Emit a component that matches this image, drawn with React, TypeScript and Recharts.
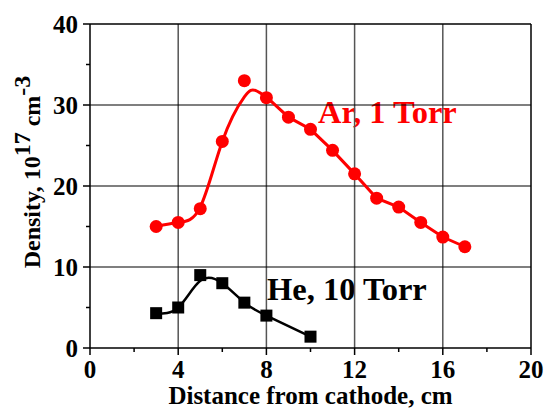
import React from 'react';
import { ComposedChart, Line, Scatter, XAxis, YAxis, ReferenceLine } from 'recharts';

const xTicks = [0, 2, 4, 6, 8, 10, 12, 14, 16, 18, 20];
const yTicks = [0, 5, 10, 15, 20, 25, 30, 35, 40];
const xMinor = [2, 6, 10, 14, 18];
const yMinor = [5, 15, 25, 35];
const xGrid = [4, 8, 12, 16];
const yGrid = [10, 20, 30];

// measured points
const arDist = [3, 4, 5, 6, 7, 8, 9, 10, 11, 12, 13, 14, 15, 16, 17];
const arDensity = [15, 15.5, 17.2, 25.5, 33, 30.9, 28.5, 27, 24.4, 21.5, 18.5, 17.4, 15.5, 13.7, 12.5];
const heDist = [3, 4, 5, 6, 7, 8, 10];
const heDensity = [4.3, 5.0, 9.0, 8.0, 5.6, 4.0, 1.4];

// smooth curves (Ar curve in two pieces)
const arRiseDist = [3, 4, 5, 6, 7, 7.5, 8];
const arRiseDensity = [15, 15.5, 17.4, 25.5, 31.0, 31.8, 31];
const arTailDist = [8, 9, 10, 11, 12, 13, 14, 15, 16, 17];
const arTailDensity = [31, 28.5, 27, 24.4, 21.5, 18.5, 17.4, 15.5, 13.7, 12.5];
const heFitDist = [3, 4, 5, 6, 7, 8, 10];
const heFitDensity = [4.3, 5.0, 8.3, 8.0, 5.6, 4.0, 1.4];

const zip = (xs: number[], ys: number[]) => xs.map((x, i) => ({ x, y: ys[i] }));

const FONT = '"Liberation Serif", "Times New Roman", serif';

const BottomTick = ({ x, y, payload }: any) => {
  const major = payload.value % 4 === 0;
  return (
    <g>
      <line x1={x} x2={x} y1={y} y2={y + (major ? 7 : 4)} stroke="#000" strokeWidth={1.5} />
      {major && (
        <text x={x} y={y + 30} textAnchor="middle" fontFamily={FONT} fontWeight="bold" fontSize={25} fill="#000">
          {payload.value}
        </text>
      )}
    </g>
  );
};

const LeftTick = ({ x, y, payload }: any) => {
  const major = payload.value % 10 === 0;
  return (
    <g>
      <line x1={x} x2={x - (major ? 7 : 4)} y1={y} y2={y} stroke="#000" strokeWidth={1.5} />
      {major && (
        <text x={x - 12} y={y + 9} textAnchor="end" fontFamily={FONT} fontWeight="bold" fontSize={25} fill="#000">
          {payload.value}
        </text>
      )}
    </g>
  );
};

const TopTick = ({ x, y }: any) => <line x1={x} x2={x} y1={y} y2={y + 4} stroke="#000" strokeWidth={1.5} />;
const RightTick = ({ x, y }: any) => <line x1={x} x2={x - 4} y1={y} y2={y} stroke="#000" strokeWidth={1.5} />;

const Dot = (p: any) => <circle cx={p.cx} cy={p.cy} r={6.5} fill="#ff0000" />;
const Square = (p: any) => <rect x={p.cx - 6} y={p.cy - 6} width={12} height={12} fill="#000" />;

const XTitle = ({ viewBox }: any) => (
  <text x={viewBox.x + viewBox.width / 2} y={viewBox.y + 56} textAnchor="middle" fontFamily={FONT} fontWeight="bold" fontSize={25} fill="#000">
    Distance from cathode, cm
  </text>
);

const YTitle = () => (
  <text transform="translate(40,172) rotate(-90)" textAnchor="middle" fontFamily={FONT} fontWeight="bold" fontSize={24} fill="#000">
    Density, 10<tspan dy={-10}>17</tspan>
    <tspan dy={10}> cm</tspan>
    <tspan dy={-10}>-3</tspan>
  </text>
);

export default function App() {
  return (
    <div style={{ position: 'absolute', left: 0, top: 0, width: 546, height: 410, background: '#fff' }}>
      <ComposedChart width={546} height={410} margin={{ top: 0, right: 0, bottom: 0, left: 0 }}>
        <XAxis
          xAxisId={0}
          dataKey="x"
          type="number"
          domain={[0, 20]}
          ticks={xTicks}
          interval={0}
          height={62}
          tickSize={0}
          tickMargin={0}
          tickLine={false}
          tick={<BottomTick />}
          axisLine={{ stroke: '#000', strokeWidth: 1.5 }}
          label={{ content: <XTitle /> }}
        />
        <XAxis
          xAxisId="top"
          orientation="top"
          type="number"
          domain={[0, 20]}
          ticks={xMinor}
          interval={0}
          height={24}
          tickSize={0}
          tickMargin={0}
          tickLine={false}
          tick={<TopTick />}
          axisLine={{ stroke: '#000', strokeWidth: 1.5 }}
        />
        <YAxis
          yAxisId={0}
          type="number"
          domain={[0, 40]}
          ticks={yTicks}
          interval={0}
          width={90}
          tickSize={0}
          tickMargin={0}
          tickLine={false}
          tick={<LeftTick />}
          axisLine={{ stroke: '#000', strokeWidth: 1.5 }}
          label={{ content: <YTitle /> }}
        />
        <YAxis
          yAxisId="right"
          orientation="right"
          type="number"
          domain={[0, 40]}
          ticks={yMinor}
          interval={0}
          width={15}
          tickSize={0}
          tickMargin={0}
          tickLine={false}
          tick={<RightTick />}
          axisLine={{ stroke: '#000', strokeWidth: 1.5 }}
        />
        {xGrid.map((v) => (
          <ReferenceLine key={'gx' + v} x={v} stroke="#555" strokeWidth={1.5} />
        ))}
        {yGrid.map((v) => (
          <ReferenceLine key={'gy' + v} y={v} stroke="#000" strokeWidth={1.2} />
        ))}
        <Line
          data={zip(arRiseDist, arRiseDensity)}
          dataKey="y"
          type="natural"
          stroke="#ff0000"
          strokeWidth={3}
          dot={false}
          isAnimationActive={false}
        />
        <Line
          data={zip(arTailDist, arTailDensity)}
          dataKey="y"
          type="linear"
          stroke="#ff0000"
          strokeWidth={3}
          dot={false}
          isAnimationActive={false}
        />
        <Line
          data={zip(heFitDist, heFitDensity)}
          dataKey="y"
          type="natural"
          stroke="#000"
          strokeWidth={2.5}
          dot={false}
          isAnimationActive={false}
        />
        <Scatter data={zip(arDist, arDensity)} dataKey="y" shape={<Dot />} isAnimationActive={false} />
        <Scatter data={zip(heDist, heDensity)} dataKey="y" shape={<Square />} isAnimationActive={false} />
        <text x={318} y={123} fontFamily={FONT} fontWeight="bold" fontSize={32.5} fill="#ff0000">
          Ar, 1 Torr
        </text>
        <text x={267} y={300} fontFamily={FONT} fontWeight="bold" fontSize={32.5} fill="#000">
          He, 10 Torr
        </text>
      </ComposedChart>
    </div>
  );
}
